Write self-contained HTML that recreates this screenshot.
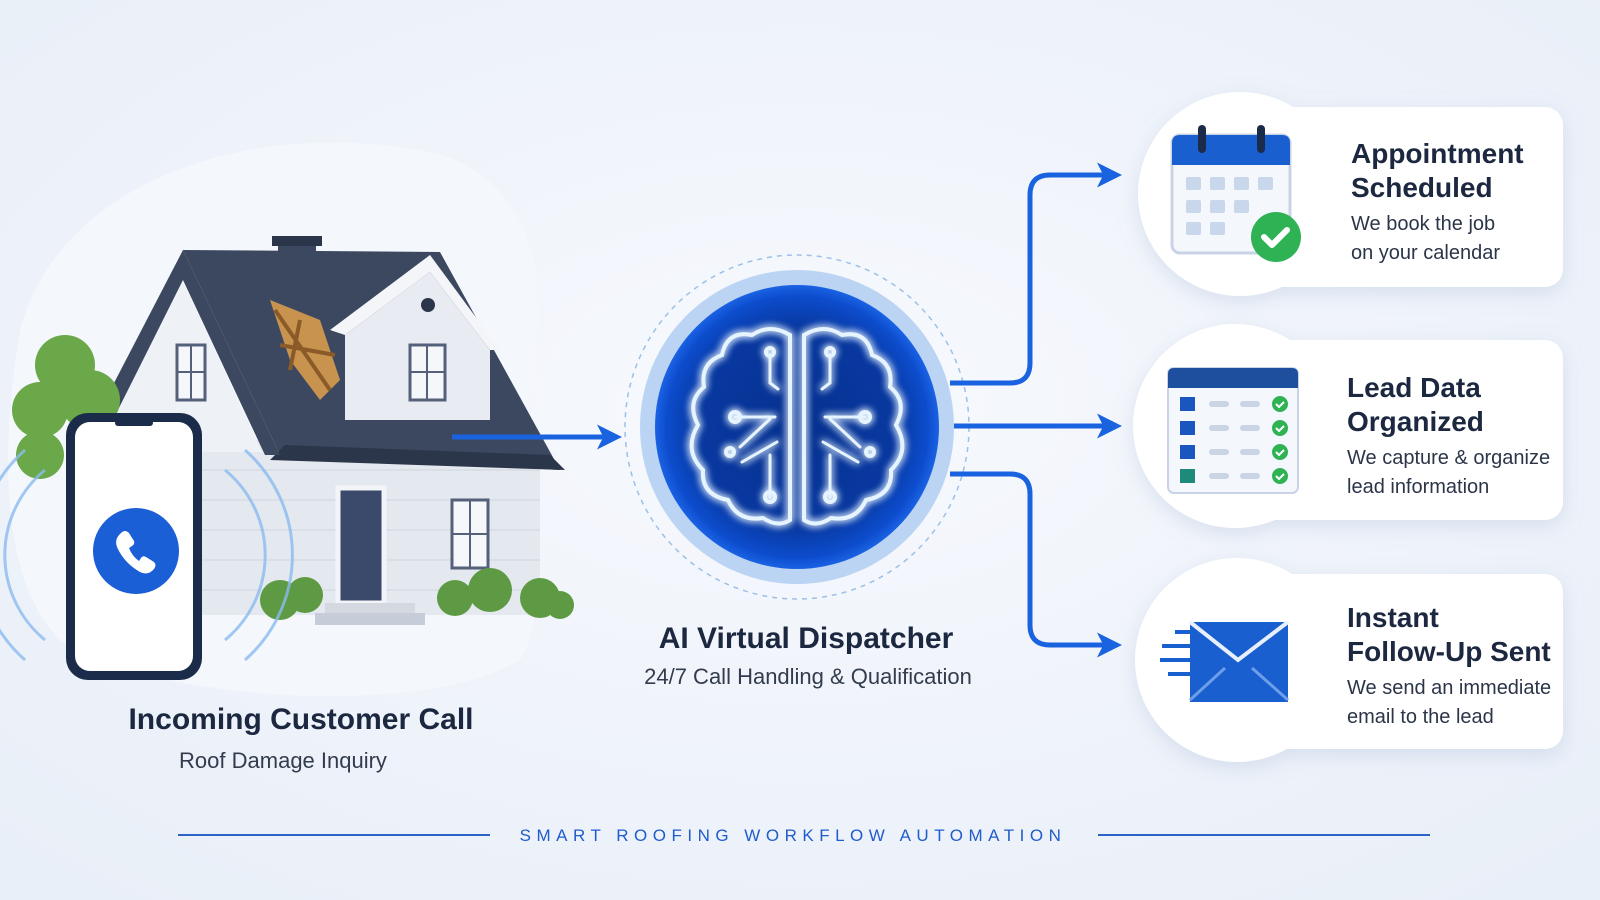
<!DOCTYPE html>
<html><head><meta charset="utf-8"><style>
html,body{margin:0;padding:0;background:#eef3fa}
svg{display:block}
text{font-family:"Liberation Sans",sans-serif}
</style></head><body>
<svg width="1600" height="900" viewBox="0 0 1600 900" xmlns="http://www.w3.org/2000/svg">
<defs>
<radialGradient id="bg" cx="0.5" cy="0.45" r="0.7"><stop offset="0" stop-color="#f7f9fd"/><stop offset="1" stop-color="#e9eff8"/></radialGradient>
<radialGradient id="core" cx="0.5" cy="0.5" r="0.5"><stop offset="0" stop-color="#06318f"/><stop offset="0.7" stop-color="#0838a0"/><stop offset="0.92" stop-color="#0c4ccc"/><stop offset="1" stop-color="#1a62e4"/></radialGradient>
<filter id="glow" x="-30%" y="-30%" width="160%" height="160%"><feGaussianBlur stdDeviation="4" result="b"/><feMerge><feMergeNode in="b"/><feMergeNode in="b"/><feMergeNode in="SourceGraphic"/></feMerge></filter>
<filter id="sh" x="-20%" y="-20%" width="140%" height="150%"><feDropShadow dx="0" dy="6" stdDeviation="10" flood-color="#8aa0c8" flood-opacity="0.25"/></filter>
<marker id="ah" viewBox="0 0 10 10" refX="6" refY="5" markerWidth="5" markerHeight="5" orient="auto"><path d="M0,0 L10,5 L0,10 L2.5,5 Z" fill="#1a63e0"/></marker>
</defs>
<rect width="1600" height="900" fill="url(#bg)"/>
<path d="M20,330 C60,180 250,120 420,150 C540,170 560,300 520,420 C500,500 560,600 520,660 C420,720 150,700 60,640 C0,580 0,450 20,330Z" fill="#f4f7fc"/>

<!-- house -->
<g>
<rect x="150" y="440" width="390" height="175" fill="#e4e8ef"/>
<g stroke="#cfd5df" stroke-width="1">
<line x1="150" y1="470" x2="540" y2="470"/><line x1="150" y1="500" x2="540" y2="500"/><line x1="150" y1="530" x2="540" y2="530"/><line x1="150" y1="560" x2="540" y2="560"/><line x1="150" y1="590" x2="540" y2="590"/></g>
<polygon points="183,250 440,252 560,470 280,455" fill="#3c4860"/>
<polygon points="270,460 565,470 550,455 285,445" fill="#2c364a"/>
<rect x="278" y="240" width="38" height="60" fill="#3c4860"/>
<rect x="272" y="236" width="50" height="10" fill="#2c364a"/>
<polygon points="100,410 183,250 280,455 265,455 183,280 118,410" fill="#3c4860"/>
<polygon points="118,410 183,282 262,452 118,452" fill="#eef1f5"/>
<polygon points="330,330 430,255 500,350 490,350 430,272 345,335" fill="#f3f5f8"/>
<polygon points="345,335 430,272 490,350 490,420 345,420" fill="#e8ebf1"/>
<circle cx="428" cy="305" r="7" fill="#2c364a"/>
<polygon points="270,300 320,320 340,380 320,400 290,360" fill="#c8934e"/>
<path d="M275,310 L330,390 M300,320 L290,370 M280,345 L335,355" stroke="#8a5a28" stroke-width="4"/>
<g fill="#f5f7fa" stroke="#55617a" stroke-width="3"><rect x="177" y="345" width="28" height="55"/><rect x="410" y="345" width="35" height="55"/><rect x="452" y="500" width="36" height="68"/></g>
<g stroke="#55617a" stroke-width="2"><line x1="191" y1="345" x2="191" y2="400"/><line x1="177" y1="372" x2="205" y2="372"/><line x1="427" y1="345" x2="427" y2="400"/><line x1="410" y1="372" x2="445" y2="372"/><line x1="470" y1="500" x2="470" y2="568"/><line x1="452" y1="534" x2="488" y2="534"/></g>
<rect x="338" y="488" width="46" height="115" fill="#3b4a6b" stroke="#f2f4f8" stroke-width="5"/>
<rect x="325" y="603" width="90" height="12" fill="#d3d8e1"/><rect x="315" y="613" width="110" height="12" fill="#c7cdd8"/>
<g fill="#5e9a43"><circle cx="280" cy="600" r="20"/><circle cx="305" cy="595" r="18"/><circle cx="455" cy="598" r="18"/><circle cx="490" cy="590" r="22"/><circle cx="540" cy="598" r="20"/><circle cx="560" cy="605" r="14"/></g>
<g fill="#6aa84a"><circle cx="65" cy="365" r="30"/><circle cx="40" cy="410" r="28"/><circle cx="90" cy="400" r="30"/><circle cx="40" cy="455" r="24"/></g>
</g>
<!-- phone waves -->
<g fill="none" stroke="#8cbcf0" stroke-width="3" opacity="0.8">
<path d="M45,470 A110,110 0 0 0 45,640"/><path d="M25,450 A140,140 0 0 0 25,660"/>
<path d="M225,470 A110,110 0 0 1 225,640"/><path d="M245,450 A140,140 0 0 1 245,660"/></g>
<rect x="66" y="413" width="136" height="267" rx="22" fill="#1b2b4a"/>
<rect x="75" y="422" width="118" height="249" rx="15" fill="#ffffff"/>
<rect x="115" y="420" width="38" height="6" rx="3" fill="#1b2b4a"/>
<circle cx="136" cy="551" r="43" fill="#1a5fd6"/>
<path d="M121,533 q4,-4 8,0 l5,8 q1,3 -2,5 l-3,2 q3,8 10,13 l2,-3 q2,-3 5,-1 l8,5 q3,3 0,7 q-6,7 -14,3 q-16,-9 -23,-25 q-3,-8 4,-14z" fill="#fff"/>

<text x="301" y="729" text-anchor="middle" font-size="30" font-weight="bold" fill="#1c2740">Incoming Customer Call</text>
<text x="283" y="768" text-anchor="middle" font-size="22" fill="#333c4e">Roof Damage Inquiry</text>

<!-- arrow into brain -->
<line x1="452" y1="437" x2="612" y2="437" stroke="#1a63e0" stroke-width="5" marker-end="url(#ah)"/>

<!-- brain -->
<circle cx="797" cy="427" r="172" fill="none" stroke="#9cc0e6" stroke-width="1.5" stroke-dasharray="5 5"/>
<circle cx="797" cy="427" r="157" fill="#bcd4f4"/>
<circle cx="797" cy="427" r="142" fill="url(#core)"/>
<g fill="none" stroke="#e6f4ff" stroke-width="4" filter="url(#glow)" stroke-linecap="round">
<path d="M790,520 L790,335 q-20,-12 -38,0 q-25,-5 -30,20 q-22,8 -18,32 q-18,15 -6,38 q-15,25 5,45 q-2,25 25,30 q10,22 35,18 q15,10 27,2z"/>
<path d="M804,520 L804,335 q20,-12 38,0 q25,-5 30,20 q22,8 18,32 q18,15 6,38 q15,25 -5,45 q2,25 -25,30 q-10,22 -35,18 q-15,10 -27,2z"/>
<path d="M770,355 v28 l8,6 M735,417 h40 M740,447 l30,-28 M742,462 l35,-20 M770,455 v42 M830,355 v28 l-8,6 M865,417 h-40 M860,447 l-30,-28 M858,462 l-35,-20 M830,455 v42" stroke-width="3"/>
<circle cx="770" cy="352" r="4"/><circle cx="735" cy="417" r="5"/><circle cx="770" cy="497" r="5"/><circle cx="830" cy="352" r="4"/><circle cx="865" cy="417" r="5"/><circle cx="830" cy="497" r="5"/><circle cx="730" cy="452" r="4"/><circle cx="870" cy="452" r="4"/>
</g>
<text x="806" y="648" text-anchor="middle" font-size="30" font-weight="bold" fill="#1c2740">AI Virtual Dispatcher</text>
<text x="808" y="684" text-anchor="middle" font-size="22" fill="#333c4e">24/7 Call Handling &amp; Qualification</text>

<!-- branches -->
<g fill="none" stroke="#1a63e0" stroke-width="5">
<path d="M950,383 H1010 q20,0 20,-20 V195 q0,-20 20,-20 H1112" marker-end="url(#ah)"/>
<path d="M954,426 H1112" marker-end="url(#ah)"/>
<path d="M950,474 H1010 q20,0 20,20 V625 q0,20 20,20 H1112" marker-end="url(#ah)"/>
</g>

<!-- cards -->
<g filter="url(#sh)" fill="#fff">
<rect x="1239" y="107" width="324" height="180" rx="18"/>
<rect x="1239" y="340" width="324" height="180" rx="18"/>
<rect x="1239" y="574" width="324" height="175" rx="18"/>
<circle cx="1240" cy="194" r="102"/>
<circle cx="1235" cy="426" r="102"/>
<circle cx="1237" cy="660" r="102"/>
</g>
<!-- calendar -->
<rect x="1172" y="135" width="118" height="118" rx="8" fill="#f4f7fb" stroke="#c8d4e6" stroke-width="3"/>
<path d="M1172,143 q0,-8 8,-8 h102 q8,0 8,8 v22 h-118z" fill="#1a5fd0"/>
<rect x="1198" y="125" width="8" height="28" rx="4" fill="#1b2b4a"/><rect x="1257" y="125" width="8" height="28" rx="4" fill="#1b2b4a"/>
<g fill="#c9d7ec"><rect x="1186" y="177" width="15" height="13" rx="2"/><rect x="1210" y="177" width="15" height="13" rx="2"/><rect x="1234" y="177" width="15" height="13" rx="2"/><rect x="1258" y="177" width="15" height="13" rx="2"/><rect x="1186" y="200" width="15" height="13" rx="2"/><rect x="1210" y="200" width="15" height="13" rx="2"/><rect x="1234" y="200" width="15" height="13" rx="2"/><rect x="1186" y="222" width="15" height="13" rx="2"/><rect x="1210" y="222" width="15" height="13" rx="2"/></g>
<circle cx="1276" cy="237" r="25" fill="#2fb254"/><path d="M1264,237 l8,8 l15,-15" stroke="#fff" stroke-width="6" fill="none" stroke-linecap="round" stroke-linejoin="round"/>
<!-- table -->
<rect x="1168" y="368" width="130" height="125" rx="6" fill="#f4f7fb" stroke="#c8d4e6" stroke-width="2"/>
<path d="M1168,374 q0,-6 6,-6 h118 q6,0 6,6 v14 h-130z" fill="#1e4e9e"/>
<g fill="#1a56c0"><rect x="1180" y="397" width="15" height="14"/><rect x="1180" y="421" width="15" height="14"/><rect x="1180" y="445" width="15" height="14"/></g><rect x="1180" y="469" width="15" height="14" fill="#1e8a7a"/>
<g fill="#c9d4e4"><rect x="1209" y="401" width="20" height="6" rx="3"/><rect x="1240" y="401" width="20" height="6" rx="3"/><rect x="1209" y="425" width="20" height="6" rx="3"/><rect x="1240" y="425" width="20" height="6" rx="3"/><rect x="1209" y="449" width="20" height="6" rx="3"/><rect x="1240" y="449" width="20" height="6" rx="3"/><rect x="1209" y="473" width="20" height="6" rx="3"/><rect x="1240" y="473" width="20" height="6" rx="3"/></g>
<g fill="#2fb254"><circle cx="1280" cy="404" r="8"/><circle cx="1280" cy="428" r="8"/><circle cx="1280" cy="452" r="8"/><circle cx="1280" cy="476" r="8"/></g>
<g fill="none" stroke="#fff" stroke-width="2"><path d="M1276,404 l3,3 l5,-5 M1276,428 l3,3 l5,-5 M1276,452 l3,3 l5,-5 M1276,476 l3,3 l5,-5"/></g>
<!-- envelope -->
<g stroke="#1a5fd0" stroke-width="4"><line x1="1162" y1="646" x2="1195" y2="646"/><line x1="1160" y1="660" x2="1195" y2="660"/><line x1="1168" y1="674" x2="1195" y2="674"/><line x1="1175" y1="632" x2="1195" y2="632"/></g>
<path d="M1190,622 h98 v80 h-98z" fill="#1a5fd0"/>
<path d="M1190,622 L1238,660 L1288,622" fill="none" stroke="#e8f0ff" stroke-width="4"/>
<path d="M1190,700 L1225,668 M1288,700 L1252,668" stroke="#6d9ee8" stroke-width="3"/>

<g fill="#1c2740" font-weight="bold" font-size="28">
<text x="1351" y="163">Appointment</text><text x="1351" y="197">Scheduled</text>
<text x="1347" y="397">Lead Data</text><text x="1347" y="431">Organized</text>
<text x="1347" y="627">Instant</text><text x="1347" y="661">Follow-Up Sent</text></g>
<g fill="#2c3548" font-size="20">
<text x="1351" y="230">We book the job</text><text x="1351" y="259">on your calendar</text>
<text x="1347" y="464">We capture &amp; organize</text><text x="1347" y="493">lead information</text>
<text x="1347" y="694">We send an immediate</text><text x="1347" y="723">email to the lead</text></g>

<!-- footer -->
<line x1="178" y1="835" x2="490" y2="835" stroke="#2b63c8" stroke-width="2"/>
<line x1="1098" y1="835" x2="1430" y2="835" stroke="#2b63c8" stroke-width="2"/>
<text x="793" y="841" text-anchor="middle" font-size="17" fill="#1f5ccc" letter-spacing="5.5">SMART ROOFING WORKFLOW AUTOMATION</text>
</svg>
</body></html>
